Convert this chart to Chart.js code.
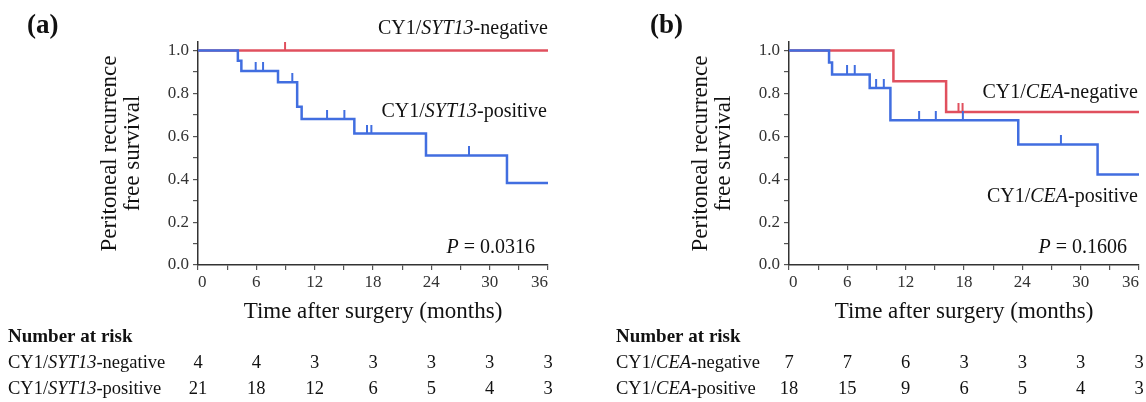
<!DOCTYPE html>
<html>
<head>
<meta charset="utf-8">
<script src="https://cdn.jsdelivr.net/npm/chart.js@4.4.1/dist/chart.umd.min.js"></script>
<style>
  html, body { margin: 0; padding: 0; background: #fff; }
  #wrap { position: relative; width: 1146px; height: 402px; }
  canvas { position: absolute; top: 0; }
  #chartA { left: 0; }
  #chartB { left: 573px; }
</style>
</head>
<body>
<div id="wrap">
  <canvas id="chartA" width="573" height="402"></canvas>
  <canvas id="chartB" width="573" height="402"></canvas>
</div>
<script>
// months where the number at risk is listed
const riskTimes = [0, 6, 12, 18, 24, 30, 36];

// (a) CY1/SYT13
const sytNegTime = [0, 36];
const sytNegSurv = [1, 1];
const sytNegCensor = [8.95];
const sytPosTime = [0, 4.1, 4.46, 8.23, 10.2, 10.66, 16.08, 23.45, 31.78, 36];
const sytPosSurv = [1, 0.952, 0.905, 0.852, 0.738, 0.681, 0.613, 0.511, 0.383, 0.383];
const sytPosCensor = [5.93, 6.69, 9.7, 13.27, 15.05, 17.38, 17.83, 27.87];
const sytNegRisk = [4, 4, 3, 3, 3, 3, 3];
const sytPosRisk = [21, 18, 12, 6, 5, 4, 3];

// (b) CY1/CEA
const ceaNegTime = [0, 10.74, 16.16, 36];
const ceaNegSurv = [1, 0.857, 0.714, 0.714];
const ceaNegCensor = [17.43, 17.85];
const ceaPosTime = [0, 4.12, 4.43, 8.3, 10.43, 23.58, 31.74, 36];
const ceaPosSurv = [1, 0.944, 0.889, 0.825, 0.675, 0.5625, 0.422, 0.422];
const ceaPosCensor = [5.97, 6.76, 8.96, 9.75, 13.38, 15.1, 17.88, 27.97];
const ceaNegRisk = [7, 7, 6, 3, 3, 3, 3];
const ceaPosRisk = [18, 15, 9, 6, 5, 4, 3];

const RED = '#e0505e';
const BLUE = '#416ee0';
const SERIF = '"Liberation Serif", "Times New Roman", serif';

function curve(times, surv) {
  return times.map((t, i) => ({ x: t, y: surv[i] }));
}

// survival level of the step curve at time t
function levelAt(times, surv, t) {
  let s = surv[0];
  for (let i = 0; i < times.length; i++) if (times[i] <= t) s = surv[i];
  return s;
}

function censorPoints(times, surv, cens) {
  return cens.map(t => ({ x: t, y: levelAt(times, surv, t) }));
}

// little upward tick used as censor mark
function tickMark(color) {
  const c = document.createElement('canvas');
  c.width = 4; c.height = 18;
  const g = c.getContext('2d');
  g.fillStyle = color;
  g.fillRect(1, 0, 2, 9);
  return c;
}

function drawRich(ctx, parts, x, y, size, align) {
  const fontOf = p => (p[1] ? 'italic ' : '') + size + 'px ' + SERIF;
  let total = 0;
  parts.forEach(p => { ctx.font = fontOf(p); total += ctx.measureText(p[0]).width; });
  let cx = align === 'right' ? x - total : x;
  ctx.textAlign = 'left';
  ctx.textBaseline = 'middle';
  parts.forEach(p => {
    ctx.font = fontOf(p);
    ctx.fillText(p[0], cx, y);
    cx += ctx.measureText(p[0]).width;
  });
}

function annotations(opt) {
  return {
    id: 'annot',
    afterDraw(chart) {
      const ctx = chart.ctx;
      const xs = chart.scales.x;
      ctx.save();
      ctx.fillStyle = '#111';
      ctx.font = 'bold 27px ' + SERIF;
      ctx.textAlign = 'left';
      ctx.textBaseline = 'middle';
      ctx.fillText(opt.tag, opt.tagX, 26);

      opt.notes.forEach(n => drawRich(ctx, n.parts, n.x, n.y, 20, 'right'));

      ctx.font = 'bold 19px ' + SERIF;
      ctx.textAlign = 'left';
      ctx.fillText('Number at risk', opt.tableX, 337);
      opt.rows.forEach((r, k) => {
        const y = 363 + k * 26;
        drawRich(ctx, r.parts, opt.tableX, y, 18.5, 'left');
        ctx.font = '18.5px ' + SERIF;
        ctx.textAlign = 'center';
        r.values.forEach((v, i) => ctx.fillText(String(v), xs.getPixelForValue(riskTimes[i]), y));
      });
      ctx.restore();
    }
  };
}

function axisStyle() {
  return {
    grid: { drawOnChartArea: false, drawTicks: true, tickLength: 5, color: '#555', lineWidth: 1.2 },
    border: { display: true, color: '#333', width: 1.5 }
  };
}

function makeChart(id, pos, neg, opt) {
  return new Chart(document.getElementById(id), {
    type: 'line',
    data: {
      datasets: [
        { data: curve(pos.t, pos.s), borderColor: BLUE, borderWidth: 2.5, stepped: true, pointRadius: 0, fill: false },
        { type: 'scatter', data: censorPoints(pos.t, pos.s, pos.c), pointStyle: tickMark(BLUE), pointRadius: 5, showLine: false, clip: false },
        { data: curve(neg.t, neg.s), borderColor: RED, borderWidth: 2.5, stepped: true, pointRadius: 0, fill: false },
        { type: 'scatter', data: censorPoints(neg.t, neg.s, neg.c), pointStyle: tickMark(RED), pointRadius: 5, showLine: false, clip: false }
      ]
    },
    options: {
      responsive: false,
      animation: false,
      layout: { padding: { left: opt.padLeft, right: opt.padRight, top: 42, bottom: 79 } },
      plugins: { legend: { display: false }, tooltip: { enabled: false } },
      scales: {
        x: Object.assign(axisStyle(), {
          type: 'linear', min: 0, max: 36,
          ticks: {
            stepSize: 3, autoSkip: false, maxRotation: 0, padding: 2, align: 'inner',
            color: '#333', font: { family: SERIF, size: 17 },
            callback: v => (v % 6 === 0 ? v : '')
          },
          title: {
            display: true, text: 'Time after surgery (months)', color: '#111',
            font: { family: SERIF, size: 23, lineHeight: 1 }, padding: 0
          },
          afterFit: s => { s.height = 58; s.paddingLeft = 0; s.paddingRight = 0; }
        }),
        y: Object.assign(axisStyle(), {
          type: 'linear', min: 0, max: 1.04,
          afterBuildTicks: s => { s.ticks = s.ticks.filter(t => t.value <= 1.0001); },
          ticks: {
            stepSize: 0.1, autoSkip: false, padding: 4, includeBounds: false,
            color: '#333', font: { family: SERIF, size: 17 },
            callback: v => (Math.round(v * 10) % 2 === 0 ? v.toFixed(1) : '')
          },
          title: {
            display: true, text: ['Peritoneal recurrence', 'free survival'], color: '#111',
            font: { family: SERIF, size: 23, lineHeight: 1 }, padding: 0
          },
          afterFit: s => { s.width = 100; s.paddingTop = 0; s.paddingBottom = 0; }
        })
      }
    },
    plugins: [annotations(opt)]
  });
}

makeChart('chartA',
  { t: sytPosTime, s: sytPosSurv, c: sytPosCensor },
  { t: sytNegTime, s: sytNegSurv, c: sytNegCensor },
  {
    padLeft: 98, padRight: 25, tag: '(a)', tagX: 27, tableX: 8,
    notes: [
      { parts: [['CY1/', false], ['SYT13', true], ['-negative', false]], x: 548, y: 29 },
      { parts: [['CY1/', false], ['SYT13', true], ['-positive', false]], x: 547, y: 112 },
      { parts: [['P', true], [' = 0.0316', false]], x: 535, y: 248 }
    ],
    rows: [
      { parts: [['CY1/', false], ['SYT13', true], ['-negative', false]], values: sytNegRisk },
      { parts: [['CY1/', false], ['SYT13', true], ['-positive', false]], values: sytPosRisk }
    ]
  });

makeChart('chartB',
  { t: ceaPosTime, s: ceaPosSurv, c: ceaPosCensor },
  { t: ceaNegTime, s: ceaNegSurv, c: ceaNegCensor },
  {
    padLeft: 116, padRight: 7, tag: '(b)', tagX: 77, tableX: 43,
    notes: [
      { parts: [['CY1/', false], ['CEA', true], ['-negative', false]], x: 565, y: 93 },
      { parts: [['CY1/', false], ['CEA', true], ['-positive', false]], x: 565, y: 197 },
      { parts: [['P', true], [' = 0.1606', false]], x: 554, y: 248 }
    ],
    rows: [
      { parts: [['CY1/', false], ['CEA', true], ['-negative', false]], values: ceaNegRisk },
      { parts: [['CY1/', false], ['CEA', true], ['-positive', false]], values: ceaPosRisk }
    ]
  });
</script>
</body>
</html>
